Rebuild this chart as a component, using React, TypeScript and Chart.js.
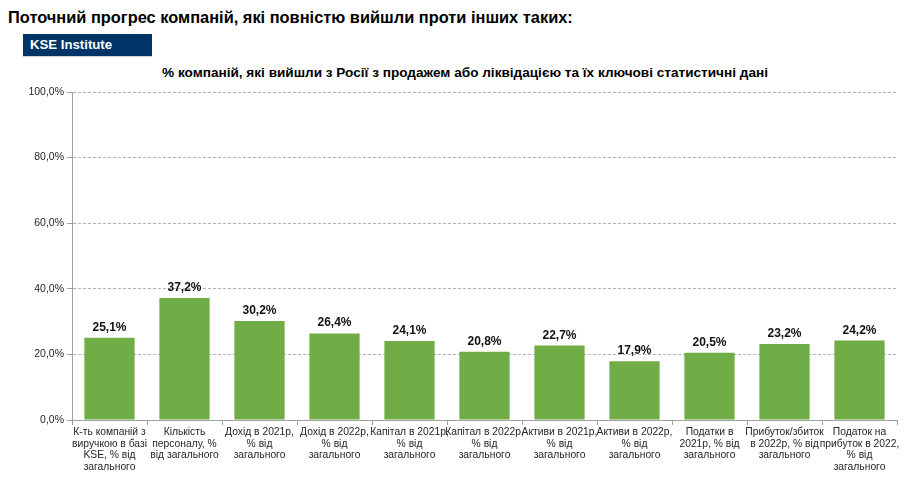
import { useEffect, useRef } from 'react';
import { Chart, registerables } from 'chart.js';
import type { ChartConfiguration, Plugin } from 'chart.js';

Chart.register(...registerables);

const FONT = '"Liberation Sans", Arial, sans-serif';

const categories: string[][] = [
  ['К-ть компаній з', 'виручкою в базі', 'KSE, % від', 'загального'],
  ['Кількість', 'персоналу, %', 'від загального'],
  ['Дохід в 2021р,', '% від', 'загального'],
  ['Дохід в 2022р,', '% від', 'загального'],
  ['Капітал в 2021р,', '% від', 'загального'],
  ['Капітал в 2022р,', '% від', 'загального'],
  ['Активи в 2021р,', '% від', 'загального'],
  ['Активи в 2022р,', '% від', 'загального'],
  ['Податки в', '2021р, % від', 'загального'],
  ['Прибуток/збиток', 'в 2022р, % від', 'загального'],
  ['Податок на', 'прибуток в 2022,', '% від', 'загального'],
];

const shareValues: number[] = [25.1, 37.2, 30.2, 26.4, 24.1, 20.8, 22.7, 17.9, 20.5, 23.2, 24.2];

const yTicks: number[] = [0, 20, 40, 60, 80, 100];

const fmt = (v: number) => v.toFixed(1).replace('.', ',') + '%';

// value labels above each bar
const barLabels: Plugin<'bar'> = {
  id: 'barLabels',
  afterDatasetsDraw(chart) {
    const ctx = chart.ctx;
    const meta = chart.getDatasetMeta(0);
    ctx.save();
    ctx.font = `bold 12px ${FONT}`;
    ctx.fillStyle = '#111';
    ctx.textAlign = 'center';
    ctx.textBaseline = 'alphabetic';
    meta.data.forEach((bar, i) => {
      const { x, y } = bar.getProps(['x', 'y'], true);
      ctx.fillText(fmt(shareValues[i]), x, y - 7);
    });
    ctx.restore();
  },
};

export default function App() {
  const canvasRef = useRef<HTMLCanvasElement>(null);
  const chartRef = useRef<Chart<'bar'> | null>(null);

  useEffect(() => {
    if (!canvasRef.current) return;
    if (chartRef.current) chartRef.current.destroy();

    const config: ChartConfiguration<'bar'> = {
      type: 'bar',
      data: {
        labels: categories,
        datasets: [
          {
            data: shareValues,
            backgroundColor: '#70ad47',
            borderWidth: 0,
            barPercentage: 0.67,
            categoryPercentage: 1,
          },
        ],
      },
      options: {
        responsive: false,
        animation: false,
        layout: { padding: { top: 12, right: 24, bottom: 0, left: 0 } },
        plugins: {
          legend: { display: false },
          tooltip: { enabled: false },
        },
        scales: {
          x: {
            afterFit: (scale) => {
              scale.height = 66;
            },
            grid: {
              offset: true,
              drawOnChartArea: false,
              tickLength: 5,
              color: '#a0a0a0',
            },
            border: { display: true, color: '#a0a0a0' },
            ticks: {
              autoSkip: false,
              maxRotation: 0,
              minRotation: 0,
              padding: 1,
              color: '#262626',
              font: { family: FONT, size: 10.3, lineHeight: 1.15 },
            },
          },
          y: {
            min: 0,
            max: 100,
            afterFit: (scale) => {
              scale.width = 72;
            },
            afterBuildTicks: (scale) => {
              scale.ticks = yTicks.map((v) => ({ value: v }));
            },
            grid: {
              color: '#b3b3b3',
              tickBorderDash: [],
              tickColor: '#a0a0a0',
              tickLength: 5,
            },
            border: { display: true, color: '#a0a0a0', dash: [3, 2] },
            ticks: {
              padding: 3,
              color: '#262626',
              font: { family: FONT, size: 10.5 },
              callback: (v) => fmt(Number(v)),
            },
          },
        },
      },
      plugins: [barLabels],
    };

    chartRef.current = new Chart(canvasRef.current, config);
    return () => {
      if (chartRef.current) {
        chartRef.current.destroy();
        chartRef.current = null;
      }
    };
  }, []);

  return (
    <div
      style={{
        position: 'absolute',
        left: 0,
        top: 0,
        width: 921,
        height: 486,
        background: '#fff',
        fontFamily: FONT,
        overflow: 'hidden',
      }}
    >
      <div
        style={{
          position: 'absolute',
          left: 8,
          top: 7,
          fontSize: 16.4,
          fontWeight: 700,
          color: '#000',
          whiteSpace: 'nowrap',
          lineHeight: '20px',
        }}
      >
        Поточний прогрес компаній, які повністю вийшли проти інших таких:
      </div>
      <div
        style={{
          position: 'absolute',
          left: 23,
          top: 34,
          width: 129,
          height: 23,
          background: '#003366',
          borderBottom: '1px solid #d0d0d0',
          color: '#fff',
          fontSize: 13.2,
          fontWeight: 700,
          lineHeight: '22px',
          paddingLeft: 7,
          boxSizing: 'border-box',
        }}
      >
        KSE Institute
      </div>
      <div
        style={{
          position: 'absolute',
          left: 0,
          top: 65,
          width: 930,
          textAlign: 'center',
          fontSize: 13.6,
          fontWeight: 700,
          color: '#000',
          lineHeight: '16px',
          whiteSpace: 'nowrap',
        }}
      >
        % компаній, які вийшли з Росії з продажем або ліквідацією та їх ключові статистичні дані
      </div>
      <canvas
        ref={canvasRef}
        width={921}
        height={406}
        style={{ position: 'absolute', left: 0, top: 80, width: 921, height: 406 }}
      />
    </div>
  );
}
